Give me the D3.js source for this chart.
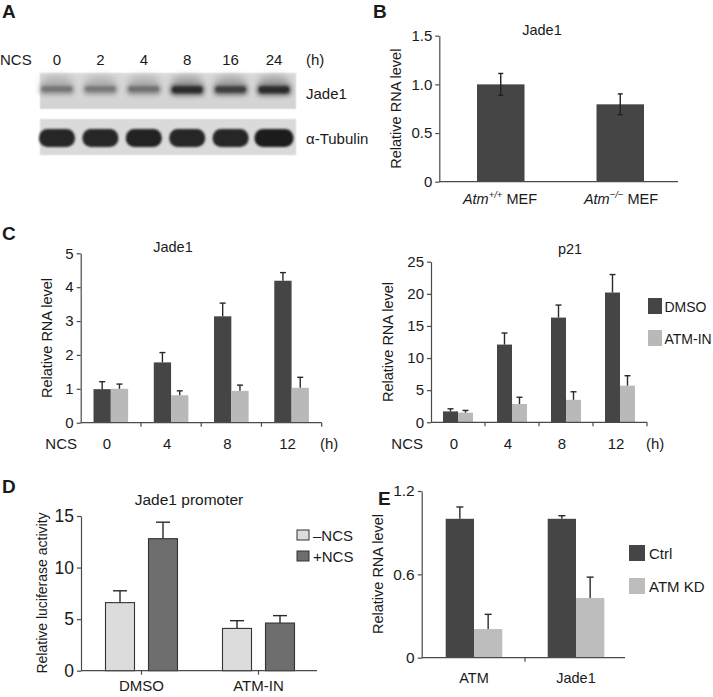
<!DOCTYPE html>
<html><head><meta charset="utf-8">
<script src="https://cdn.jsdelivr.net/npm/d3@7"></script>
<style>
body{margin:0;background:#fff;}
svg{display:block;font-family:"Liberation Sans",Arial,Helvetica,sans-serif;}
text{fill:#1a1a1a;}
</style></head><body>
<script>
// ---------- DATA ----------
// Panel A (western blot)
const blotLanes = ["0","2","4","8","16","24"];
const jade1Band = [0.42, 0.40, 0.45, 0.88, 0.74, 0.88];
const tubulinBand = [0.9, 0.9, 0.92, 0.9, 0.9, 0.94];
// Panel B
const bCategories = ["Atm+/+", "Atm-/-"];
const bValues = [1.0, 0.795];
const bErrors = [0.112, 0.107];
const bTicks = [0, 0.5, 1.0, 1.5];
const bTickLabels = ["0", "0.5", "1.0", "1.5"];
// Panel C (Jade1 / p21)
const cHours = ["0", "4", "8", "12"];
const cSeries = ["DMSO", "ATM-IN"];
const cJadeDMSO = [0.99, 1.78, 3.14, 4.19];
const cJadeDMSOerr = [0.22, 0.29, 0.39, 0.24];
const cJadeATM = [1.0, 0.81, 0.94, 1.03];
const cJadeATMerr = [0.14, 0.13, 0.17, 0.31];
const cJadeTicks = [0, 1, 2, 3, 4, 5];
const cP21DMSO = [1.7, 12.1, 16.3, 20.2];
const cP21DMSOerr = [0.4, 1.8, 1.95, 2.8];
const cP21ATM = [1.5, 2.85, 3.5, 5.7];
const cP21ATMerr = [0.35, 1.05, 1.25, 1.55];
const cP21Ticks = [0, 5, 10, 15, 20, 25];
// Panel D
const dGroups = ["DMSO", "ATM-IN"];
const dSeries = ["\u2013NCS", "+NCS"];
const dMinus = [6.6, 4.1];
const dMinusErr = [1.15, 0.75];
const dPlus = [12.8, 4.62];
const dPlusErr = [1.6, 0.72];
const dTicks = [0, 5, 10, 15];
// Panel E
const eGroups = ["ATM", "Jade1"];
const eSeries = ["Ctrl", "ATM KD"];
const eCtrl = [1.0, 1.0];
const eCtrlErr = [0.085, 0.022];
const eKD = [0.206, 0.43];
const eKDErr = [0.106, 0.15];
const eTicks = [0, 0.6, 1.2];
const eTickLabels = ["0", "0.6", "1.2"];

// ---------- STYLE ----------
const DARK = "#454545", LIGHT = "#b9b9b9", AXIS = "#4a4a4a";
const FS = 14.5;

const svg = d3.select("body").append("svg").attr("width", 713).attr("height", 697);
const defs = svg.append("defs");
function blurFilter(id, sd) {
  defs.append("filter").attr("id", id)
    .attr("x", "-60%").attr("y", "-150%").attr("width", "220%").attr("height", "400%")
    .append("feGaussianBlur").attr("stdDeviation", sd);
}
blurFilter("b1", 1.2);
blurFilter("b2", 2.4);
blurFilter("b3", 3.5);

function txt(x, y, s, opt = {}) {
  return svg.append("text").attr("x", x).attr("y", y)
    .attr("font-size", opt.size || FS)
    .attr("font-weight", opt.weight || "normal")
    .attr("text-anchor", opt.anchor || "start")
    .attr("dominant-baseline", "central")
    .text(s);
}
function ylabel(x, y, s, size) {
  svg.append("text").attr("transform", `translate(${x},${y}) rotate(-90)`)
    .attr("font-size", size || FS).attr("text-anchor", "middle")
    .attr("dominant-baseline", "central").text(s);
}
function yAxis(yScale, xPos, ticks, labels, size) {
  const ax = d3.axisLeft(yScale).tickValues(ticks).tickSizeInner(4).tickSizeOuter(0).tickPadding(3)
    .tickFormat((d, i) => labels ? labels[i] : d);
  const g = svg.append("g").attr("transform", `translate(${xPos},0)`).call(ax);
  g.selectAll("path,line").attr("stroke", AXIS).attr("stroke-width", 1.2);
  g.selectAll("text").attr("font-size", size || 15).attr("fill", "#1a1a1a")
    .attr("font-family", "Liberation Sans, Arial, sans-serif");
  return g;
}
function xAxisLine(x0, x1, y, tickXs, len) {
  svg.append("line").attr("x1", x0).attr("x2", x1).attr("y1", y).attr("y2", y)
    .attr("stroke", AXIS).attr("stroke-width", 1.2);
  tickXs.forEach(t => svg.append("line").attr("x1", t).attr("x2", t).attr("y1", y).attr("y2", y + (len || 4))
    .attr("stroke", AXIS).attr("stroke-width", 1.2));
}
function errUp(x, yTop, yBar, cap) {
  svg.append("line").attr("x1", x).attr("x2", x).attr("y1", yBar).attr("y2", yTop)
    .attr("stroke", "#2a2a2a").attr("stroke-width", 1.4);
  svg.append("line").attr("x1", x - cap / 2).attr("x2", x + cap / 2).attr("y1", yTop).attr("y2", yTop)
    .attr("stroke", "#2a2a2a").attr("stroke-width", 1.4);
}

// ---------- PANEL LETTERS ----------
[["A", 2, 11], ["B", 373, 11], ["C", 2, 233], ["D", 2, 486], ["E", 378, 498]].forEach(([l, x, y]) =>
  txt(x, y, l, { size: 19, weight: "bold" }));

// ---------- PANEL A : blot ----------
const laneX = d3.scalePoint().domain(blotLanes).range([57, 274]);
txt(0, 59, "NCS", { size: 15 });
blotLanes.forEach(l => txt(laneX(l), 59, l, { anchor: "middle", size: 15 }));
txt(306, 59, "(h)", { size: 15 });
txt(306, 93, "Jade1", { size: 15 });
txt(306, 138, "\u03b1-Tubulin", { size: 15 });

const gradJ = defs.append("linearGradient").attr("id", "gj").attr("x1", 0).attr("x2", 0).attr("y1", 0).attr("y2", 1);
gradJ.append("stop").attr("offset", 0).attr("stop-color", "#dadada");
gradJ.append("stop").attr("offset", 1).attr("stop-color", "#d3d3d3");
svg.append("rect").attr("x", 40).attr("y", 73).attr("width", 256).attr("height", 36).attr("fill", "url(#gj)")
  .attr("stroke", "#ececec");
svg.append("rect").attr("x", 40).attr("y", 119).attr("width", 256).attr("height", 36).attr("fill", "#dadada")
  .attr("stroke", "#ececec");
const bandCol = d3.interpolateRgb("#bcbcbc", "#151515");
blotLanes.forEach((l, i) => {
  const cx = laneX(l), v = jade1Band[i];
  // diffuse smear above
  svg.append("ellipse").attr("cx", cx).attr("cy", 81).attr("rx", 16).attr("ry", 5)
    .attr("fill", bandCol(v * 0.35)).attr("opacity", 0.7).attr("filter", "url(#b3)");
  svg.append("rect").attr("x", cx - 17).attr("y", 84.5).attr("width", 34).attr("height", 9 + v * 2)
    .attr("rx", 4).attr("fill", bandCol(v * 0.7)).attr("filter", "url(#b2)");
  svg.append("rect").attr("x", cx - 15).attr("y", 86.5).attr("width", 30).attr("height", 3.5 + v * 3)
    .attr("rx", 3).attr("fill", bandCol(v)).attr("filter", "url(#b1)");
  const tv = tubulinBand[i];
  const w = i === 5 ? 39 : 36;
  svg.append("rect").attr("x", cx - w / 2).attr("y", 129).attr("width", w).attr("height", 18)
    .attr("rx", 8.5).attr("fill", bandCol(tv)).attr("filter", "url(#b1)");
});

// ---------- PANEL B ----------
{
  const y = d3.scaleLinear().domain([0, 1.5]).range([181.7, 35.7]);
  const x = d3.scaleBand().domain(bCategories).range([441, 680]);
  const bw = 47.5;
  bCategories.forEach((c, i) => {
    const cx = x(c) + x.bandwidth() / 2;
    svg.append("rect").attr("x", cx - bw / 2).attr("y", y(bValues[i])).attr("width", bw)
      .attr("height", y(0) - y(bValues[i])).attr("fill", DARK);
    const yt = y(bValues[i] + bErrors[i]), yb = y(bValues[i] - bErrors[i]);
    svg.append("line").attr("x1", cx).attr("x2", cx).attr("y1", yb).attr("y2", yt).attr("stroke", "#222").attr("stroke-width", 1.4);
    [yt, yb].forEach(yy => svg.append("line").attr("x1", cx - 2.5).attr("x2", cx + 2.5).attr("y1", yy).attr("y2", yy)
      .attr("stroke", "#222").attr("stroke-width", 1.4));
  });
  yAxis(y, 439.3, bTicks, bTickLabels);
  xAxisLine(439.3, 678, 181.7, []);
  txt(542, 30, "Jade1", { anchor: "middle" });
  ylabel(396, 108.7, "Relative RNA level");
  const lab = (cx, sup) => {
    const t = svg.append("text").attr("x", cx).attr("y", 199).attr("font-size", FS)
      .attr("text-anchor", "middle").attr("dominant-baseline", "central");
    t.append("tspan").attr("font-style", "italic").text("Atm");
    t.append("tspan").attr("font-style", "italic").attr("font-size", 9.5).attr("dy", -5).text(sup);
    t.append("tspan").attr("dy", 5).text(" MEF");
  };
  lab(500, "+/+");
  lab(621, "\u2212/\u2212");
}

// ---------- PANEL C ----------
function panelC(opts) {
  const y = d3.scaleLinear().domain([0, opts.max]).range([opts.y0, opts.y1]);
  const x = d3.scaleBand().domain(cHours).range([opts.xa, opts.xb]);
  const xs = d3.scaleBand().domain(cSeries).range([-opts.bw, opts.bw]);
  const vals = [opts.dmso, opts.atm], errs = [opts.dmsoErr, opts.atmErr];
  cHours.forEach((h, i) => {
    const cx = x(h) + x.bandwidth() / 2;
    cSeries.forEach((s, k) => {
      const v = vals[k][i];
      svg.append("rect").attr("x", cx + xs(s)).attr("y", y(v)).attr("width", xs.bandwidth())
        .attr("height", y(0) - y(v)).attr("fill", k === 0 ? DARK : LIGHT);
      errUp(cx + xs(s) + xs.bandwidth() / 2, y(v + errs[k][i]), y(v), 6);
    });
    txt(cx - 4, 443, h, { anchor: "middle", size: 15 });
  });
  yAxis(y, opts.xa, opts.ticks);
  xAxisLine(opts.xa, opts.xb, opts.y0, d3.range(1, 5).map(k => opts.xa + k * x.bandwidth()));
  txt(opts.ncsX, 443, "NCS", { anchor: "end", size: 15 });
  txt(opts.hX, 443, "(h)", { size: 15 });
  txt(opts.titleX, opts.titleY, opts.title, { anchor: "middle" });
  ylabel(opts.labX, (opts.y0 + opts.y1) / 2, "Relative RNA level");
}
panelC({ max: 5, y0: 422.7, y1: 253.3, xa: 80.7, xb: 321.7, bw: 17.3, dmso: cJadeDMSO, dmsoErr: cJadeDMSOerr,
  atm: cJadeATM, atmErr: cJadeATMerr, ticks: cJadeTicks, ncsX: 77, hX: 320, title: "Jade1", titleX: 173, titleY: 247, labX: 46.7 });
panelC({ max: 25, y0: 422.3, y1: 261.7, xa: 431, xb: 647, bw: 15, dmso: cP21DMSO, dmsoErr: cP21DMSOerr,
  atm: cP21ATM, atmErr: cP21ATMerr, ticks: cP21Ticks, ncsX: 423, hX: 646, title: "p21", titleX: 570, titleY: 249, labX: 388 });
// legend C
cSeries.forEach((s, k) => {
  const yy = [298, 330][k];
  svg.append("rect").attr("x", 648).attr("y", yy).attr("width", 14).attr("height", 16).attr("fill", k === 0 ? DARK : LIGHT);
  txt(664.5, yy + 8.5, s, { size: 14 });
});

// ---------- PANEL D ----------
{
  const y = d3.scaleLinear().domain([0, 15]).range([670.7, 516]);
  const x = d3.scaleBand().domain(dGroups).range([83, 317]);
  const vals = [dMinus, dPlus], errs = [dMinusErr, dPlusErr], cols = ["#dcdcdc", "#6e6e6e"];
  const offs = [-36, 7], bw = 29;
  dGroups.forEach((g, i) => {
    const cx = x(g) + x.bandwidth() / 2;
    vals.forEach((arr, k) => {
      const v = arr[i], x0 = cx + offs[k];
      errUp(x0 + bw / 2, y(v + errs[k][i]), y(v), 14);
      svg.append("rect").attr("x", x0).attr("y", y(v)).attr("width", bw).attr("height", y(0) - y(v))
        .attr("fill", cols[k]).attr("stroke", "#333").attr("stroke-width", 1.1);
    });
    txt(cx, 685, g, { anchor: "middle", size: 15 });
  });
  yAxis(y, 81, dTicks, null, 17.5);
  xAxisLine(81, 317, 670.7, dGroups.map(g => x(g) + x.bandwidth() / 2));
  txt(189, 499, "Jade1 promoter", { anchor: "middle", size: 15.5 });
  ylabel(42, 593, "Relative luciferase activity", 14);
  dSeries.forEach((s, k) => {
    const yy = [530, 551][k];
    svg.append("rect").attr("x", 297).attr("y", yy).attr("width", 12).attr("height", 10)
      .attr("fill", cols[k]).attr("stroke", "#333").attr("stroke-width", 1);
    txt(313, yy + 5.5, s, { size: 15 });
  });
}

// ---------- PANEL E ----------
{
  const y = d3.scaleLinear().domain([0, 1.2]).range([657.7, 491]);
  const x = d3.scaleBand().domain(eGroups).range([423, 627]);
  const vals = [eCtrl, eKD], errs = [eCtrlErr, eKDErr], cols = [DARK, "#bdbdbd"];
  const bw = 28.3;
  eGroups.forEach((g, i) => {
    const cx = x(g) + x.bandwidth() / 2;
    vals.forEach((arr, k) => {
      const v = arr[i], x0 = cx - bw + k * bw;
      svg.append("rect").attr("x", x0).attr("y", y(v)).attr("width", bw).attr("height", y(0) - y(v)).attr("fill", cols[k]);
      errUp(x0 + bw / 2, y(v + errs[k][i]), y(v), 7);
    });
    txt(cx, 678, g, { anchor: "middle" });
  });
  yAxis(y, 421.7, eTicks, eTickLabels, 15.5);
  xAxisLine(421.7, 625, 657.7, [x("Jade1")]);
  ylabel(378, 574, "Relative RNA level");
  eSeries.forEach((s, k) => {
    const yy = [545, 578][k];
    svg.append("rect").attr("x", 629).attr("y", yy).attr("width", 16).attr("height", 16).attr("fill", cols[k]);
    txt(649, yy + 8.5, s, { size: 15 });
  });
}
</script>
</body></html>
